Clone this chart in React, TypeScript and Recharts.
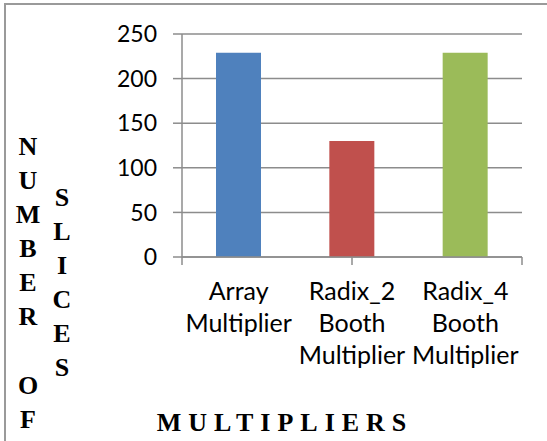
import { BarChart, Bar, Cell, XAxis, YAxis, CartesianGrid } from 'recharts'

const categoryLines = [
  ['Array', 'Multiplier'],
  ['Radix_2', 'Booth', 'Multiplier'],
  ['Radix_4', 'Booth', 'Multiplier'],
]
const slices = [229, 130, 229]
const yTicks = [0, 50, 100, 150, 200, 250]
const edgeTicks = [0, 1, 2, 3]
const yTitleLeft = 'NUMBER OF'
const yTitleRight = 'SLICES'
const xTitle = 'MULTIPLIERS'

const COLORS = ['#4F81BD', '#C0504D', '#9BBB59']
const GRID = '#8c8c8c'

const data = categoryLines.map((lines, i) => ({
  name: lines.join(' '),
  lines,
  value: slices[i],
}))

function CategoryTick(props: any) {
  const { x, y, index } = props
  const lines = data[index]?.lines ?? []
  return (
    <text
      x={x}
      y={y}
      textAnchor="middle"
      fill="#000"
      style={{ fontFamily: 'Lato, sans-serif', fontSize: 25 }}
    >
      {lines.map((l: string, i: number) => (
        <tspan key={i} x={x} dy={i === 0 ? 33 : 32}>
          {l}
        </tspan>
      ))}
    </text>
  )
}

const noTick = () => <g />

const serifBold = {
  fontFamily: '"Liberation Serif", "Times New Roman", serif',
  fontWeight: 700,
  fontSize: 26,
  color: '#000',
}

function StackedLetters({ text, left, top }: { text: string; left: number; top: number }) {
  return (
    <div style={{ position: 'absolute', left, top, width: 30, textAlign: 'center', ...serifBold }}>
      {text.split('').map((c, i) => (
        <div key={i} style={{ height: 34.1, lineHeight: '34.1px' }}>
          {c === ' ' ? '\u00a0' : c}
        </div>
      ))}
    </div>
  )
}

export default function App() {
  return (
    <div style={{ position: 'absolute', left: 0, top: 0, width: 547, height: 441, overflow: 'hidden', background: '#fff' }}>
      <div
        style={{
          position: 'absolute',
          left: 4,
          top: 3,
          width: 620,
          height: 520,
          border: '2px solid #9a9a9a',
        }}
      />
      <BarChart
        width={547}
        height={441}
        data={data}
        margin={{ top: 34, right: 25, left: 0, bottom: 0 }}
        barCategoryGap="30%"
      >
        <CartesianGrid xAxisId="cat" vertical={false} stroke={GRID} strokeWidth={1.5} />
        <XAxis
          xAxisId="axisEdge"
          type="number"
          domain={[0, 3]}
          ticks={edgeTicks}
          tick={noTick}
          tickSize={8}
          height={10}
          stroke={GRID}
          strokeWidth={1.5}
        />
        <XAxis
          xAxisId="cat"
          dataKey="name"
          axisLine={false}
          tickLine={false}
          tickSize={0}
          tickMargin={0}
          height={174}
          interval={0}
          tick={<CategoryTick />}
        />
        <YAxis
          domain={[0, 250]}
          ticks={yTicks}
          width={182}
          tickSize={9}
          tickMargin={16}
          stroke={GRID}
          strokeWidth={1.5}
          tick={{ fill: '#000', fontSize: 23, fontFamily: 'Lato, sans-serif' }}
        />
        <Bar xAxisId="cat" dataKey="value" isAnimationActive={false}>
          {data.map((d, i) => (
            <Cell key={d.name} fill={COLORS[i]} />
          ))}
        </Bar>
      </BarChart>
      <StackedLetters text={yTitleLeft} left={13} top={130} />
      <StackedLetters text={yTitleRight} left={47} top={181} />
      <div
        style={{
          position: 'absolute',
          left: 0,
          width: 570,
          top: 408,
          textAlign: 'center',
          letterSpacing: 7,
          lineHeight: '30px',
          ...serifBold,
        }}
      >
        {xTitle}
      </div>
    </div>
  )
}
